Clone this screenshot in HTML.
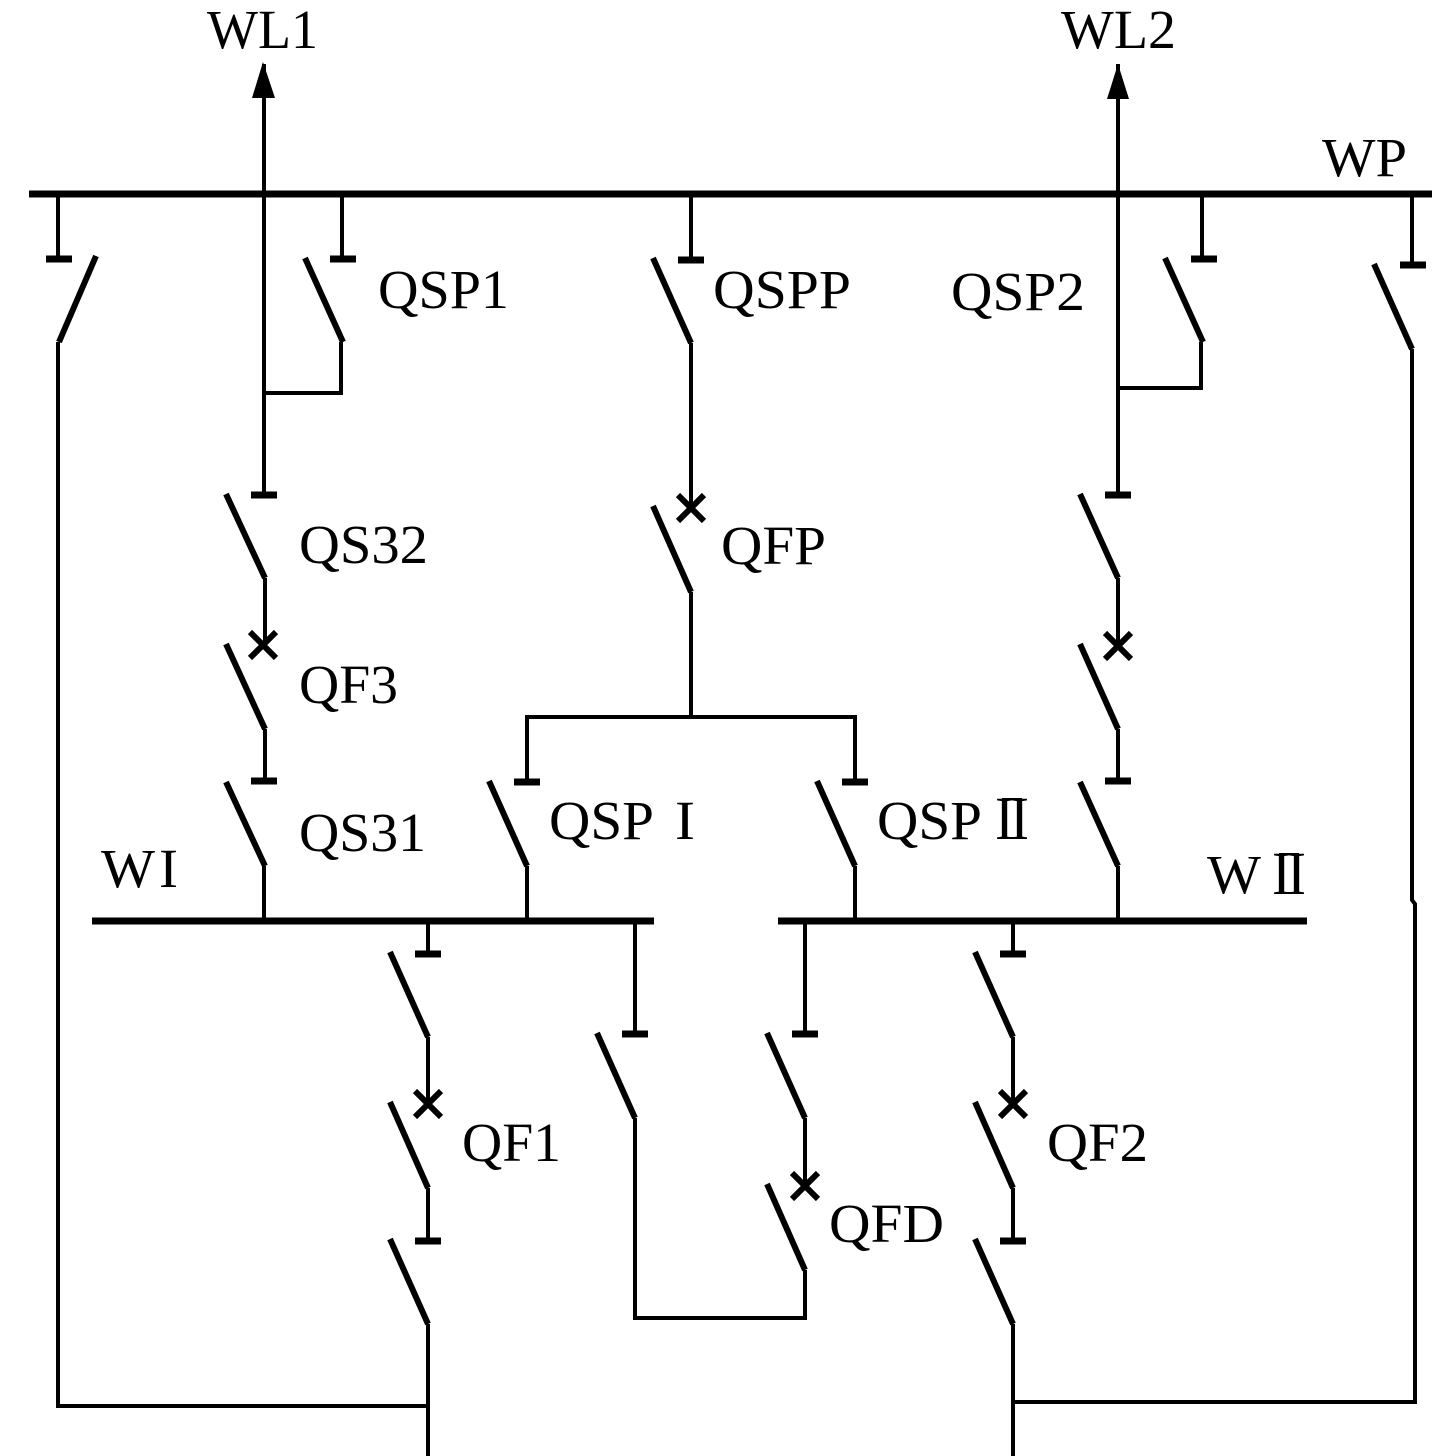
<!DOCTYPE html>
<html>
<head>
<meta charset="utf-8">
<style>
html,body{margin:0;padding:0;background:#fff}
svg{display:block}
text{font-family:"Liberation Serif",serif;font-size:55px;fill:#000}
.big{font-size:61px}
.l{stroke:#000;stroke-width:4;fill:none}
.b{stroke:#000;stroke-width:7;fill:none}
.k{stroke:#000;stroke-width:6;fill:none}
.t{stroke:#000;stroke-width:7;fill:none}
.x{stroke:#000;stroke-width:6;fill:none}
</style>
</head>
<body>
<svg width="1435" height="1456" viewBox="0 0 1435 1456" xmlns="http://www.w3.org/2000/svg">
<!-- Buses -->
<path class="b" d="M29 194H1432"/>
<path class="b" d="M92 921H654"/>
<path class="b" d="M778 921H1307"/>

<!-- Feeder arrows -->
<polygon points="263,62 252,98 275,98" fill="#000"/>
<polygon points="1118,64 1107,99 1129,99" fill="#000"/>

<!-- Left outer -->
<path class="l" d="M58 194V259"/><path class="t" d="M46 259H72"/>
<path class="k" d="M96 256L59 342"/>
<path class="l" d="M58 342V1406H428"/>

<!-- WL1 column -->
<path class="l" d="M264 64V495"/><path class="t" d="M251 495H277"/>
<path class="k" d="M226 494L265 578"/>
<path class="l" d="M265 578V645"/>
<path class="x" d="M250 632L276 658M276 632L250 658"/>
<path class="k" d="M226 644L265 729"/>
<path class="l" d="M265 729V781"/><path class="t" d="M251 781H277"/>
<path class="k" d="M226 782L265 866"/>
<path class="l" d="M264 866V921"/>

<!-- QSP1 -->
<path class="l" d="M342 194V259"/><path class="t" d="M330 259H356"/>
<path class="k" d="M305 258L343 342"/>
<path class="l" d="M341 342V393H264"/>

<!-- Center -->
<path class="l" d="M691 194V259"/><path class="t" d="M678 260H704"/>
<path class="k" d="M653 258L691 343"/>
<path class="l" d="M691 343V508"/>
<path class="x" d="M678 495L704 521M704 495L678 521"/>
<path class="k" d="M653 506L691 592"/>
<path class="l" d="M691 592V717"/>
<path class="l" d="M527 782V717H855V782"/>
<path class="t" d="M514 782H540"/><path class="t" d="M842 782H868"/>
<path class="k" d="M489 781L527 866"/>
<path class="l" d="M527 866V921"/>
<path class="k" d="M817 781L855 866"/>
<path class="l" d="M855 866V921"/>

<!-- WL2 column -->
<path class="l" d="M1118 64V495"/><path class="t" d="M1105 495H1131"/>
<path class="k" d="M1080 494L1118 578"/>
<path class="l" d="M1118 578V646"/>
<path class="x" d="M1105 633L1131 659M1131 633L1105 659"/>
<path class="k" d="M1080 644L1118 729"/>
<path class="l" d="M1118 729V781"/><path class="t" d="M1105 781H1131"/>
<path class="k" d="M1080 782L1118 866"/>
<path class="l" d="M1118 866V921"/>

<!-- QSP2 -->
<path class="l" d="M1202 194V259"/><path class="t" d="M1191 259H1217"/>
<path class="k" d="M1165 258L1203 342"/>
<path class="l" d="M1201 342V388H1118"/>

<!-- Right outer -->
<path class="l" d="M1412 194V265"/><path class="t" d="M1400 265H1426"/>
<path class="k" d="M1374 264L1412 349"/>
<path class="l" d="M1412 349V900L1415 904V1402H1013"/>

<!-- QF1 column -->
<path class="l" d="M428 921V954"/><path class="t" d="M415 954H441"/>
<path class="k" d="M390 952L428 1037"/>
<path class="l" d="M428 1037V1104"/>
<path class="x" d="M415 1091L441 1117M441 1091L415 1117"/>
<path class="k" d="M390 1102L428 1188"/>
<path class="l" d="M428 1188V1241"/><path class="t" d="M415 1241H441"/>
<path class="k" d="M390 1239L428 1324"/>
<path class="l" d="M428 1324V1456"/>

<!-- Bus tie -->
<path class="l" d="M635 921V1034"/><path class="t" d="M622 1034H648"/>
<path class="k" d="M597 1033L635 1118"/>
<path class="l" d="M635 1118V1318H805V1270"/>
<path class="l" d="M805 921V1034"/><path class="t" d="M792 1034H818"/>
<path class="k" d="M767 1033L805 1118"/>
<path class="l" d="M805 1118V1186"/>
<path class="x" d="M792 1173L818 1199M818 1173L792 1199"/>
<path class="k" d="M767 1184L805 1270"/>

<!-- QF2 column -->
<path class="l" d="M1013 921V954"/><path class="t" d="M1000 954H1026"/>
<path class="k" d="M975 952L1013 1037"/>
<path class="l" d="M1013 1037V1104"/>
<path class="x" d="M1000 1091L1026 1117M1026 1091L1000 1117"/>
<path class="k" d="M975 1102L1013 1188"/>
<path class="l" d="M1013 1188V1241"/><path class="t" d="M1000 1241H1026"/>
<path class="k" d="M975 1239L1013 1324"/>
<path class="l" d="M1013 1324V1456"/>

<!-- Labels -->
<text x="207" y="48" textLength="111" lengthAdjust="spacingAndGlyphs">WL1</text>
<text x="1061" y="48" textLength="115" lengthAdjust="spacingAndGlyphs">WL2</text>
<text x="1322" y="176" textLength="85" lengthAdjust="spacingAndGlyphs">WP</text>
<text x="378" y="308" textLength="131" lengthAdjust="spacingAndGlyphs">QSP1</text>
<text x="713" y="308" textLength="138" lengthAdjust="spacingAndGlyphs">QSPP</text>
<text x="951" y="310" textLength="134" lengthAdjust="spacingAndGlyphs">QSP2</text>
<text x="299" y="563" textLength="129" lengthAdjust="spacingAndGlyphs">QS32</text>
<text x="721" y="564" textLength="105" lengthAdjust="spacingAndGlyphs">QFP</text>
<text x="299" y="703" textLength="99" lengthAdjust="spacingAndGlyphs">QF3</text>
<text x="299" y="851" textLength="127" lengthAdjust="spacingAndGlyphs">QS31</text>
<text x="549" y="839" textLength="105" lengthAdjust="spacingAndGlyphs">QSP</text>
<text x="675" y="839" textLength="20" lengthAdjust="spacingAndGlyphs">I</text>
<text x="877" y="839" textLength="105" lengthAdjust="spacingAndGlyphs">QSP</text>
<text class="big" x="995" y="839" textLength="19" lengthAdjust="spacingAndGlyphs">I</text>
<text class="big" x="1010" y="839" textLength="19" lengthAdjust="spacingAndGlyphs">I</text>
<rect x="1002" y="798" width="20" height="2" fill="#000"/>
<rect x="1002" y="837" width="20" height="2" fill="#000"/>
<text x="101" y="887" textLength="54" lengthAdjust="spacingAndGlyphs">W</text>
<text x="159" y="887" textLength="19" lengthAdjust="spacingAndGlyphs">I</text>
<text x="1207" y="893" textLength="54" lengthAdjust="spacingAndGlyphs">W</text>
<text class="big" x="1272" y="894" textLength="19" lengthAdjust="spacingAndGlyphs">I</text>
<text class="big" x="1287" y="894" textLength="19" lengthAdjust="spacingAndGlyphs">I</text>
<rect x="1279" y="853" width="20" height="2" fill="#000"/>
<rect x="1279" y="892" width="20" height="2" fill="#000"/>
<text x="462" y="1161" textLength="99" lengthAdjust="spacingAndGlyphs">QF1</text>
<text x="1047" y="1161" textLength="101" lengthAdjust="spacingAndGlyphs">QF2</text>
<text x="829" y="1242" textLength="115" lengthAdjust="spacingAndGlyphs">QFD</text>
</svg>
</body>
</html>
